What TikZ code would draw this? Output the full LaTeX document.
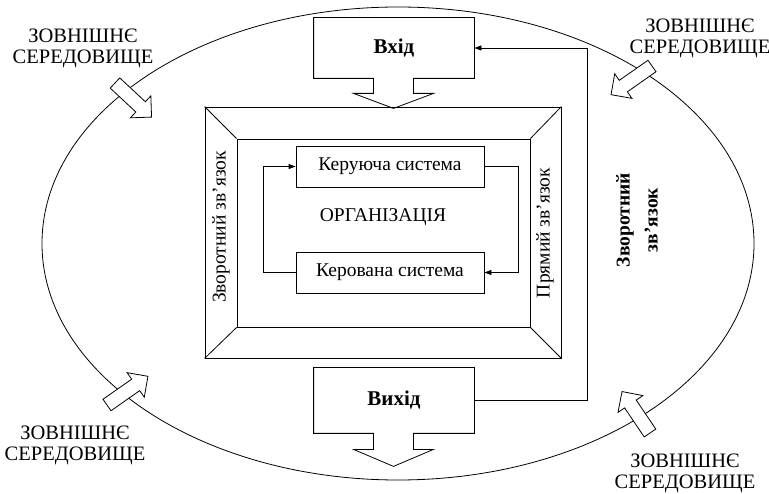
\documentclass[tikz,border=0pt]{standalone}
\usepackage{fontspec}
\setmainfont{Liberation Serif}
\usetikzlibrary{arrows.meta}
\newcommand\envarrow[2]{\draw[envar, shift={(#1)}, rotate=#2] (0,-7) -- (35,-7) -- (35,-15) -- (50,0) -- (35,15) -- (35,7) -- (0,7) -- cycle;}
\begin{document}
\begin{tikzpicture}[x=1pt,y=-1pt, line width=0.8pt,
  lbl/.style={font=\fontsize{20.5}{21}\selectfont, align=center},
  txt/.style={font=\fontsize{19.5}{22}\selectfont},
  box/.style={draw, minimum width=188, minimum height=41, inner sep=0pt, font=\fontsize{19.5}{22}\selectfont},
  iobox/.style={minimum width=160, inner sep=0pt, font=\bfseries\fontsize{21}{22}\selectfont},
  envar/.style={draw, fill=white},
  arr/.style={-{Triangle[length=7pt,width=5pt]}}]
\useasboundingbox (0,0) rectangle (769,494);
% environment
\draw (398,243.5) ellipse [x radius=356, y radius=236.5];
\envarrow{115,83}{-43}
\envarrow{652,66}{215}
\envarrow{107,405}{35}
\envarrow{650,433}{124}
\node[lbl] (envtl) at (83,48) {ЗОВНІШНЄ\\СЕРЕДОВИЩЕ};
\node[lbl] (envtr) at (700,38) {ЗОВНІШНЄ\\СЕРЕДОВИЩЕ};
\node[lbl] (envbl) at (75,445) {ЗОВНІШНЄ\\СЕРЕДОВИЩЕ};
\node[lbl] (envbr) at (685,473) {ЗОВНІШНЄ\\СЕРЕДОВИЩЕ};
% frame
\node[draw, minimum width=356, minimum height=251, inner sep=0pt] (outer) at (383,232.5) {};
\node[draw, minimum width=293, minimum height=188, inner sep=0pt] (inner) at (383.5,233) {};
\draw (outer.north west) -- (inner.north west)
      (outer.north east) -- (inner.north east)
      (outer.south east) -- (inner.south east)
      (outer.south west) -- (inner.south west);
\node[txt, rotate=90] (fbl) at (221,227) {Зворотний зв’язок};
\node[txt, rotate=90] (fwd) at (545,233) {Прямий зв’язок};
% inside
\node[box] (ctrl) at (390,166.5) {Керуюча система};
\node[box] (obj) at (390,272.5) {Керована система};
\node[txt] (org) at (383,217) {ОРГАНІЗАЦІЯ};
\draw[arr] (obj.west) -- ++(-32,0) |- (ctrl.west);
\draw[arr] (ctrl.east) -- ++(34,0) |- (obj.east);
% input / output
\node[iobox, minimum height=60] (in) at (394,48) {Вхід};
\draw (in.south west) -- (in.north west) -- (in.north east) -- (in.south east)
  -- ([xshift=19.5pt]in.south) -- ++(0,15) -- ++(20,0) -- ++(-40,15) -- ++(-40,-15) -- ++(20,0) -- ++(0,-15) -- cycle;
\node[iobox, minimum height=65] (out) at (394,400.5) {Вихід};
\draw (out.south west) -- (out.north west) -- (out.north east) -- (out.south east)
  -- ([xshift=19.5pt]out.south) -- ++(0,16) -- ++(20,0) -- ++(-40,17) -- ++(-40,-17) -- ++(20,0) -- ++(0,-16) -- cycle;
\draw[arr] (out.east) -- ++(113,0) |- (in.east);
\node[font=\bfseries\fontsize{19.5}{28}\selectfont, rotate=90, align=center] (fbr) at (637,220) {Зворотний\\зв’язок};
\end{tikzpicture}
\end{document}
